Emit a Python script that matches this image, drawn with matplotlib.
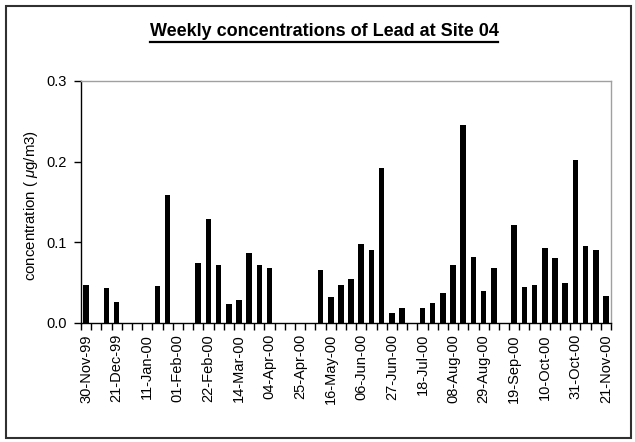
import numpy as np
import pandas as pd
import matplotlib
matplotlib.use("Agg")
import matplotlib.pyplot as plt
from matplotlib.lines import Line2D
from matplotlib.patches import Rectangle

plt.rcParams['font.family'] = ['Liberation Sans', 'DejaVu Sans']
plt.rcParams['mathtext.fontset'] = 'custom'
plt.rcParams['mathtext.it'] = 'Liberation Sans:italic'
plt.rcParams['mathtext.rm'] = 'Liberation Sans'

# Weekly sample dates (categories)
weeks = pd.date_range('1999-11-30', '2000-11-21', freq='7D')
categories = [d.strftime('%d-%b-%y') for d in weeks]

# Lead concentrations (ug/m3); NaN = no sample
lead = [0.047, np.nan, 0.044, 0.026, np.nan, np.nan, np.nan, 0.046, 0.159, np.nan,
        np.nan, 0.075, 0.129, 0.072, 0.023, 0.028, 0.087, 0.072, 0.068, np.nan,
        np.nan, np.nan, np.nan, 0.066, 0.032, 0.047, 0.054, 0.098, 0.091, 0.192,
        0.013, 0.018, np.nan, 0.018, 0.025, 0.037, 0.072, 0.245, 0.082, 0.040,
        0.068, np.nan, 0.121, 0.045, 0.047, 0.093, 0.081, 0.050, 0.202, 0.096,
        0.090, 0.034]

tick_labels = ['30-Nov-99', '21-Dec-99', '11-Jan-00', '01-Feb-00', '22-Feb-00',
               '14-Mar-00', '04-Apr-00', '25-Apr-00', '16-May-00', '06-Jun-00',
               '27-Jun-00', '18-Jul-00', '08-Aug-00', '29-Aug-00', '19-Sep-00',
               '10-Oct-00', '31-Oct-00', '21-Nov-00']
y_ticks = [0.0, 0.1, 0.2, 0.3]

W, H = 635, 442
fig = plt.figure(figsize=(W / 100, H / 100), dpi=100)
fig.patch.set_facecolor('white')

ax = fig.add_axes([81 / W, 1 - 323 / H, (611 - 81) / W, (323 - 81) / H])
x = np.arange(len(categories))
ax.bar(x, lead, width=0.55, color='black')

ax.set_xlim(-0.5, len(categories) - 0.5)
ax.set_ylim(0, 0.3)
ax.set_yticks(y_ticks)
ax.set_yticklabels([f'{v:.1f}' for v in y_ticks], fontsize=10.5)

# Labels at every third week (no tick mark); tick marks at category boundaries
label_pos = [categories.index(lbl) for lbl in tick_labels]
ax.set_xticks(label_pos)
ax.set_xticklabels(tick_labels, rotation=90, fontsize=10.5)
ax.tick_params(axis='x', which='major', length=0, pad=8)
ax.set_xticks(np.arange(-0.5, len(categories), 1.0), minor=True)
ax.tick_params(axis='x', which='minor', length=5, width=1, color='black', direction='out')
ax.tick_params(axis='y', length=5, width=1, color='black', direction='out', pad=5)

for s in ['top', 'right']:
    ax.spines[s].set_color('#a0a0a0')
    ax.spines[s].set_linewidth(1)
for s in ['left', 'bottom']:
    ax.spines[s].set_color('black')
    ax.spines[s].set_linewidth(1)

fig.text(31 / W, 1 - 205 / H, 'concentration ( $\\mu$g/m3)', rotation=90,
         ha='center', va='center', fontsize=10.8)

title = fig.text(324 / W, 1 - 31 / H, 'Weekly concentrations of Lead at Site 04',
                 ha='center', va='center', fontsize=13, fontweight='bold')

fig.canvas.draw()
bb = title.get_window_extent()
uy = (H - 42) / H
fig.add_artist(Line2D([bb.x0 / W, bb.x1 / W], [uy, uy], color='black', lw=1.6,
                      transform=fig.transFigure))

fig.add_artist(Rectangle((6 / W, 4 / H), 625 / W, 432 / H, fill=False,
                         edgecolor='#303030', lw=1.5, transform=fig.transFigure))

fig.savefig('out.png', dpi=100)
